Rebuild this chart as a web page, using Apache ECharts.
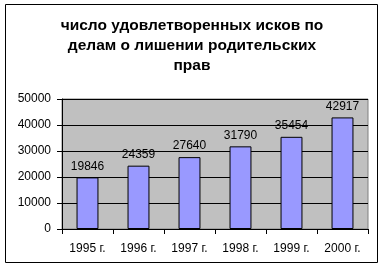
<!DOCTYPE html>
<html><head><meta charset="utf-8">
<script src="https://cdn.jsdelivr.net/npm/echarts@6/dist/echarts.min.js"></script>
<style>html,body{margin:0;padding:0;background:#fff}#c{width:384px;height:270px}</style>
</head><body><div id="c"></div>
<script>
const categories = ['1995 г.', '1996 г.', '1997 г.', '1998 г.', '1999 г.', '2000 г.'];
const values = [19846, 24359, 27640, 31790, 35454, 42917];
const titleText = 'число удовлетворенных исков по\nделам о лишении родительских\nправ';

const chart = echarts.init(document.getElementById('c'), null, {renderer: 'canvas'});
chart.setOption({
  animation: false,
  backgroundColor: '#fff',
  textStyle: {fontFamily: 'Arial, Liberation Sans, sans-serif'},
  graphic: [{
    type: 'rect', shape: {x: 5.5, y: 4.5, width: 372, height: 258},
    style: {fill: 'none', stroke: '#000', lineWidth: 1}, z: -1
  }],
  title: {
    text: titleText, left: 'center', top: 11,
    textStyle: {fontSize: 15.5, fontWeight: 'bold', color: '#000', lineHeight: 20,
      fontFamily: 'Arial, Liberation Sans, sans-serif'}
  },
  grid: {left: 62, right: 16, top: 99, bottom: 41, show: true,
    backgroundColor: '#C0C0C0', borderColor: '#808080', borderWidth: 1},
  xAxis: {
    type: 'category', data: categories,
    axisLine: {lineStyle: {color: '#000', width: 1}},
    axisTick: {show: true, inside: false, length: 5, interval: 0, lineStyle: {color: '#000'}},
    axisLabel: {color: '#000', fontSize: 12, margin: 14}
  },
  yAxis: {
    type: 'value', min: 0, max: 50000, interval: 10000,
    axisLine: {show: true, lineStyle: {color: '#000', width: 1}},
    axisTick: {show: true, length: 5, lineStyle: {color: '#000'}},
    axisLabel: {color: '#000', fontSize: 12, margin: 11, formatter: v => String(v)},
    splitLine: {show: true, lineStyle: {color: '#000', width: 1}}
  },
  series: [{
    type: 'bar', data: values, barWidth: '43%',
    itemStyle: {color: '#9999FF', borderColor: '#000', borderWidth: 1},
    label: {show: true, position: 'top', distance: 5, color: '#000', fontSize: 12}
  }]
});
</script></body></html>
